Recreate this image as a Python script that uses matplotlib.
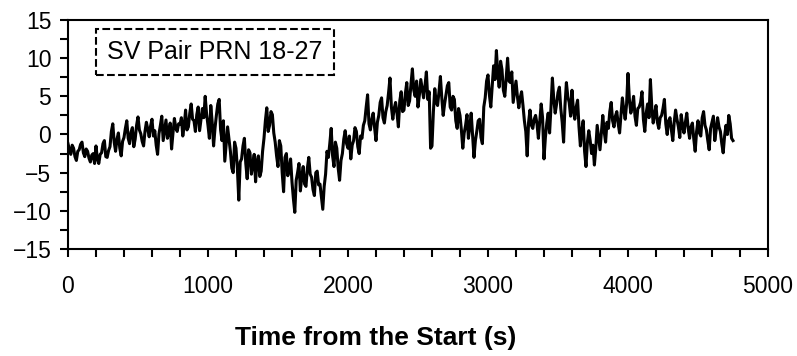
import matplotlib.pyplot as plt
from matplotlib.ticker import MultipleLocator

plt.rcParams['font.family'] = ['Liberation Sans', 'DejaVu Sans']

# time step of the trace (s) and the values, 200 s per row
dt = 10
diff = [
    -1.2, -2.0, -2.6, -1.4, -1.8, -2.9, -3.4, -2.2, -2.0, -1.3, -1.0, -2.4, -2.9, -1.9, -2.2, -3.1, -3.6, -2.7, -2.5, -3.8,
    -1.5, -3.2, -3.8, -2.6, -2.4, -1.2, -0.8, -2.9, -3.0, -2.1, -1.6, 0.4, 1.4, -1.0, -2.2, -0.6, 0.2, -1.8, -2.8, -0.9,
    -0.4, 0.8, 1.8, -0.5, -1.2, 0.3, 0.9, -1.6, -0.6, 1.2, 2.3, 0.6, 0.1, -0.9, -1.5, 0.4, 1.6, 0.7, -0.3, 1.1,
    2.0, -0.2, 0.5, -1.4, -2.6, 0.1, 1.2, 2.4, -0.8, 0.6, 1.9, -0.5, 0.3, 1.5, -1.9, 0.2, 2.1, 0.9, 0.4, 1.4,
    1.3, 2.2, -0.2, 1.1, 3.2, 0.6, 1.0, 2.8, 4.0, 2.0, 1.8, 0.4, 2.6, 3.6, 0.5, 1.9, 3.4, 2.2, 5.0, 2.7,
    1.2, -0.5, 3.8, 1.6, -1.5, 0.8, 2.5, 4.0, 4.6, 0.6, -0.8, 1.8, -3.5, -1.2, 1.0, -0.6, -2.2, -4.4, -5.0, -1.0,
    -1.8, -4.5, -8.6, -3.6, -3.2, -1.5, -0.5, -3.8, -5.8, -2.0, -2.4, -5.2, -4.0, -2.6, -6.2, -3.5, -2.8, -5.5, -4.8, -2.2,
    -0.5, 1.8, 3.5, 0.4, 1.2, 3.0, 2.6, 0.2, -1.0, -2.8, -4.2, -0.8, -1.5, -5.0, -7.5, -3.0, -2.5, -5.4, -4.6, -3.2,
    -6.2, -8.4, -10.2, -6.0, -5.0, -3.8, -7.4, -5.5, -4.2, -6.5, -6.8, -4.4, -3.0, -5.2, -5.6, -7.2, -8.0, -5.0, -4.8, -6.6,
    -6.5, -8.2, -9.8, -6.8, -5.2, -2.2, -3.0, -1.2, 0.8, -2.8, -4.2, -1.0, -1.8, -4.4, -6.0, -3.4, -2.5, -0.6, 0.5, -1.2,
    -1.8, -0.2, -3.2, -1.4, -0.8, 0.9, 0.4, -1.6, -2.5, -0.2, -0.5, 1.2, 1.8, 3.6, 5.2, 1.4, 0.6, 2.0, 2.8, 0.9,
    -0.8, 1.6, 2.5, 4.2, 4.8, 2.2, 1.5, 3.0, 3.8, 5.5, 7.4, 3.6, 2.0, 3.4, 4.2, 2.8, 1.0, 4.4, 5.6, 3.0,
    3.2, 5.4, 6.8, 3.8, 4.4, 6.6, 8.6, 5.8, 5.0, 7.0, 3.6, 5.2, 7.2, 6.0, 4.8, 6.4, 8.2, 4.6, 5.6, -1.8,
    -1.5, 3.0, 6.0, 4.2, 3.8, 5.6, 7.6, 4.8, 2.5, 4.0, 5.2, 6.4, 6.8, 3.6, 3.2, 5.0, 4.6, 1.8, 0.8, 3.4,
    2.5, 0.6, -1.8, 0.2, 1.2, 2.6, -0.5, 1.0, 2.8, 0.0, -3.0, -0.8, 0.4, 1.8, 2.0, -0.4, -1.2, 3.6, 4.8, 7.0,
    7.8, 5.2, 3.6, 6.4, 9.0, 7.2, 11.0, 8.0, 6.2, 9.6, 8.5, 5.8, 5.0, 7.4, 10.0, 7.0, 6.8, 8.2, 4.2, 5.6,
    7.0, 5.0, 3.5, 4.8, 5.6, 3.8, 1.8, 0.4, -2.8, 1.6, 3.2, 1.2, 0.8, 2.0, 2.5, 1.4, -0.5, 1.8, 4.0, 2.2,
    -3.2, -0.4, 1.5, 2.8, 0.2, 3.6, 7.4, 4.6, 2.8, 4.0, 5.5, 6.2, 3.4, 1.6, -1.0, 3.8, 6.8, 5.0, 4.2, 2.4,
    5.8, 3.2, 2.0, 3.6, 4.5, 1.0, -1.5, 0.6, 1.8, -2.2, -4.2, -1.0, 0.5, -0.8, -2.5, -1.4, -4.0, -1.8, 1.2, -0.4,
    -2.0, 0.2, 2.5, 0.4, -1.0, 1.6, 0.8, 3.0, 4.2, 1.8, 1.0, 2.4, 3.0, 1.4, 0.2, 2.6, 4.8, 3.2, 2.0, 4.0,
    8.0, 4.6, 2.8, 3.6, 5.0, 2.4, 1.2, 3.4, 3.6, 4.2, 5.6, 2.0, 0.4, 2.8, 4.0, 2.2, 7.2, 3.6, 1.5, 2.6,
    3.8, 1.6, 0.8, 2.2, 2.5, 3.4, 4.6, 1.4, 0.0, 1.8, 2.2, 0.6, -0.8, 1.6, 3.2, 2.0, 1.0, -0.4, 2.6, 1.2,
    0.2, 1.6, 2.8, 0.8, -0.5, 1.0, 1.5, -0.6, -2.2, 0.4, 1.8, 0.2, -0.2, 2.2, 3.0, 1.2, 0.6, -0.8, -2.0, 0.8,
    1.6, 2.4, -0.8, 0.6, 2.2, 1.0, 0.4, -1.2, -2.4, -0.2, 1.2, 0.0, 2.5, 1.4, -0.5, -0.8,
]
t = [i * dt for i in range(len(diff))]

fig = plt.figure(figsize=(7.97, 3.56), dpi=100)
ax = fig.add_axes([0.0853, 0.3006, 0.8783, 0.6432])
ax.plot(t, diff, color='black', lw=2.2)

ax.set_xlim(0, 5000)
ax.set_ylim(-15, 15)
ax.xaxis.set_major_locator(MultipleLocator(1000))
ax.xaxis.set_minor_locator(MultipleLocator(200))
ax.yaxis.set_major_locator(MultipleLocator(5))
ax.yaxis.set_minor_locator(MultipleLocator(2.5))
ax.tick_params(which='both', direction='out', length=6, width=1.5)
ax.tick_params(axis='x', which='major', labelsize=16.5, pad=13)
ax.tick_params(axis='y', which='major', labelsize=16.5, pad=6)
for s in ax.spines.values():
    s.set_linewidth(1.5)

# the axis title sits left of the axes centre in the original
fig.text(376 / 797, 1 - 338 / 356, 'Time from the Start (s)', fontsize=19,
         fontweight='bold', ha='center', va='center')

ax.text(282, 10.8, 'SV Pair PRN 18-27', fontsize=18, va='center', ha='left',
        bbox=dict(boxstyle='square,pad=0.45', fc='white', ec='black', ls='--', lw=1.5))

fig.savefig('out.png', dpi=100)
